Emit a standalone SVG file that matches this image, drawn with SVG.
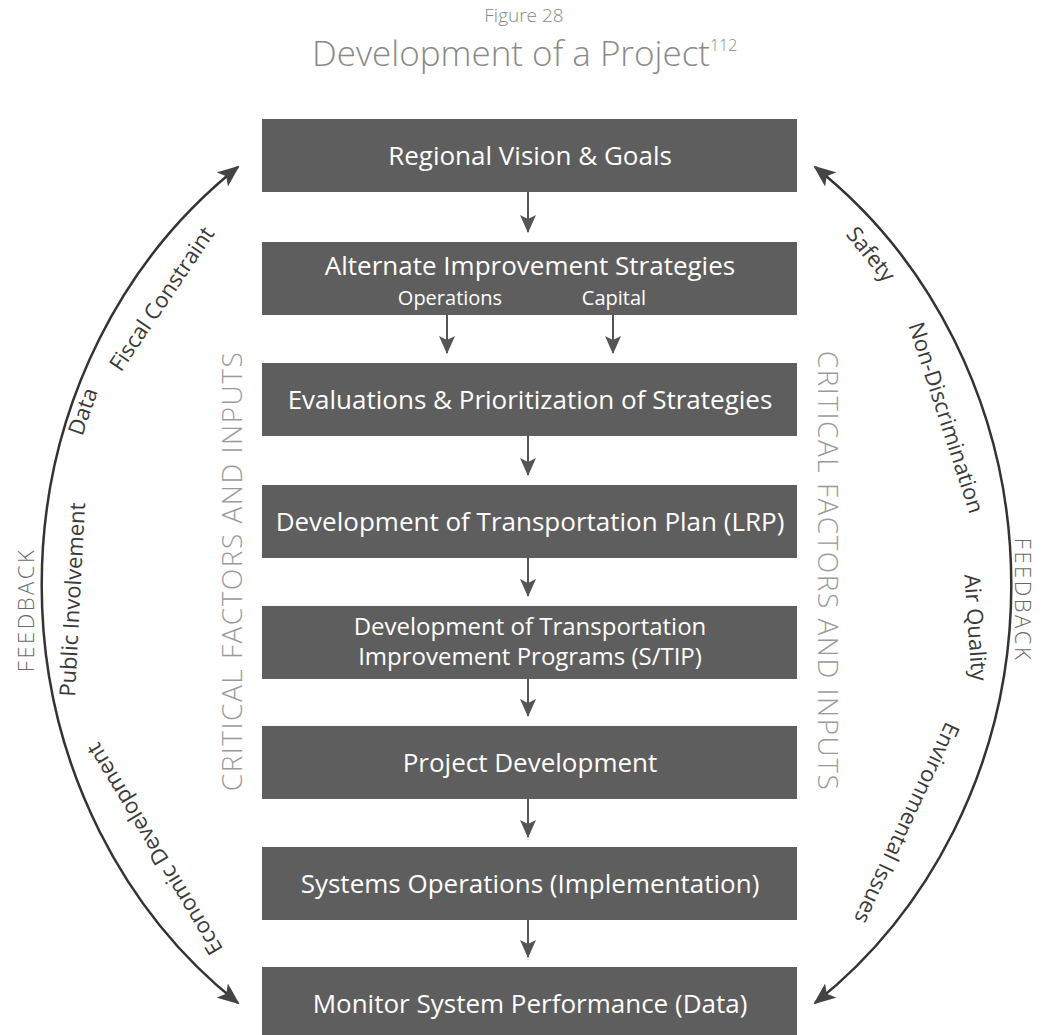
<svg xmlns="http://www.w3.org/2000/svg" width="1041" height="1035" viewBox="0 0 1041 1035">
<style>
  text { font-family: "Open Sans", "Noto Sans", "Liberation Sans", sans-serif; }
  .box { fill: #5e5e5e; }
  .bt { fill: #ffffff; font-size: 26px; text-anchor: middle; }
  .bt2 { fill: #ffffff; font-size: 24px; text-anchor: middle; }
  .sub { fill: #ffffff; font-size: 20px; text-anchor: middle; }
  .title { fill: #8a8a8a; font-weight: 300; }
  .cfi { fill: #9a9a9a; font-size: 28px; font-weight: 300; text-anchor: middle; letter-spacing: 1.5px; }
  .lab { fill: #3a3a3a; font-size: 22px; text-anchor: middle; }
  .fb { fill: #6a6a6a; font-size: 22px; font-weight: 300; text-anchor: middle; letter-spacing: 2.5px; }
  .arc { fill: none; stroke: #333; stroke-width: 2.5; }
  .link { stroke: #555; stroke-width: 2; fill: none; }
</style>
<defs>
  <marker id="bigHead" viewBox="0 0 22 18" refX="20" refY="9" markerWidth="22" markerHeight="18" markerUnits="userSpaceOnUse" orient="auto-start-reverse">
    <path d="M0,0 L22,9 L0,18 L5,9 Z" fill="#444"/>
  </marker>
  <marker id="smallHead" viewBox="0 0 18 16" refX="17" refY="8" markerWidth="18" markerHeight="16" markerUnits="userSpaceOnUse" orient="auto">
    <path d="M0,0 L18,8 L0,16 L4,8 Z" fill="#555"/>
  </marker>
</defs>

<g id="title">
  <text class="title" x="524" y="22" font-size="19" text-anchor="middle">Figure 28</text>
  <text class="title" x="312" y="66" font-size="35">Development of a Project<tspan font-size="16" dy="-15">112</tspan></text>
</g>

<g id="connectors">
  <line class="link" x1="528" y1="192" x2="528" y2="232" marker-end="url(#smallHead)"/>
  <line class="link" x1="447" y1="315" x2="447" y2="353" marker-end="url(#smallHead)"/>
  <line class="link" x1="613" y1="315" x2="613" y2="353" marker-end="url(#smallHead)"/>
  <line class="link" x1="528" y1="436" x2="528" y2="475" marker-end="url(#smallHead)"/>
  <line class="link" x1="528" y1="558" x2="528" y2="596" marker-end="url(#smallHead)"/>
  <line class="link" x1="528" y1="679" x2="528" y2="716" marker-end="url(#smallHead)"/>
  <line class="link" x1="528" y1="799" x2="528" y2="837" marker-end="url(#smallHead)"/>
  <line class="link" x1="528" y1="920" x2="528" y2="957" marker-end="url(#smallHead)"/>
  <path class="arc" d="M 238,167 A 484.5 520 0 0 0 238,1003" marker-start="url(#bigHead)" marker-end="url(#bigHead)"/>
  <path class="arc" d="M 815,167 A 484.5 520 0 0 1 815,1003" marker-start="url(#bigHead)" marker-end="url(#bigHead)"/>
</g>

<g id="n1"><rect class="box" x="262" y="119" width="535" height="73"/><text class="bt" x="530" y="165">Regional Vision &amp; Goals</text></g>
<g id="n2"><rect class="box" x="262" y="242" width="535" height="73"/><text class="bt" x="530" y="275">Alternate Improvement Strategies</text>
  <text class="sub" x="450" y="305">Operations</text><text class="sub" x="614" y="305">Capital</text></g>
<g id="n3"><rect class="box" x="262" y="363" width="535" height="73"/><text class="bt" x="530" y="409">Evaluations &amp; Prioritization of Strategies</text></g>
<g id="n4"><rect class="box" x="262" y="485" width="535" height="73"/><text class="bt" x="530" y="531">Development of Transportation Plan (LRP)</text></g>
<g id="n5"><rect class="box" x="262" y="606" width="535" height="73"/><text class="bt2" x="530" y="635">Development of Transportation</text><text class="bt2" x="530" y="665">Improvement Programs (S/TIP)</text></g>
<g id="n6"><rect class="box" x="262" y="726" width="535" height="73"/><text class="bt" x="530" y="772">Project Development</text></g>
<g id="n7"><rect class="box" x="262" y="847" width="535" height="73"/><text class="bt" x="530" y="893">Systems Operations (Implementation)</text></g>
<g id="n8"><rect class="box" x="262" y="967" width="535" height="73"/><text class="bt" x="530" y="1013">Monitor System Performance (Data)</text></g>

<g id="side-labels">
  <text class="cfi" transform="translate(242,571) rotate(-90)">CRITICAL FACTORS AND INPUTS</text>
  <text class="cfi" transform="translate(818,571) rotate(90)">CRITICAL FACTORS AND INPUTS</text>
  <text class="fb" transform="translate(34,610) rotate(-90)">FEEDBACK</text>
  <text class="fb" transform="translate(1015,600) rotate(90)">FEEDBACK</text>
</g>

<g id="arc-labels">
  <text class="lab" transform="translate(168,303) rotate(-56)">Fiscal Constraint</text>
  <text class="lab" transform="translate(90,414) rotate(-71)">Data</text>
  <text class="lab" transform="translate(80,600) rotate(-87)">Public Involvement</text>
  <text class="lab" transform="translate(161,845) rotate(-121)">Economic Development</text>
  <text class="lab" transform="translate(865,259) rotate(51)">Safety</text>
  <text class="lab" transform="translate(939,420) rotate(72)">Non-Discrimination</text>
  <text class="lab" transform="translate(968,628) rotate(86)">Air Quality</text>
  <text class="lab" transform="translate(900,820) rotate(115)">Environmental Issues</text>
</g>
</svg>
